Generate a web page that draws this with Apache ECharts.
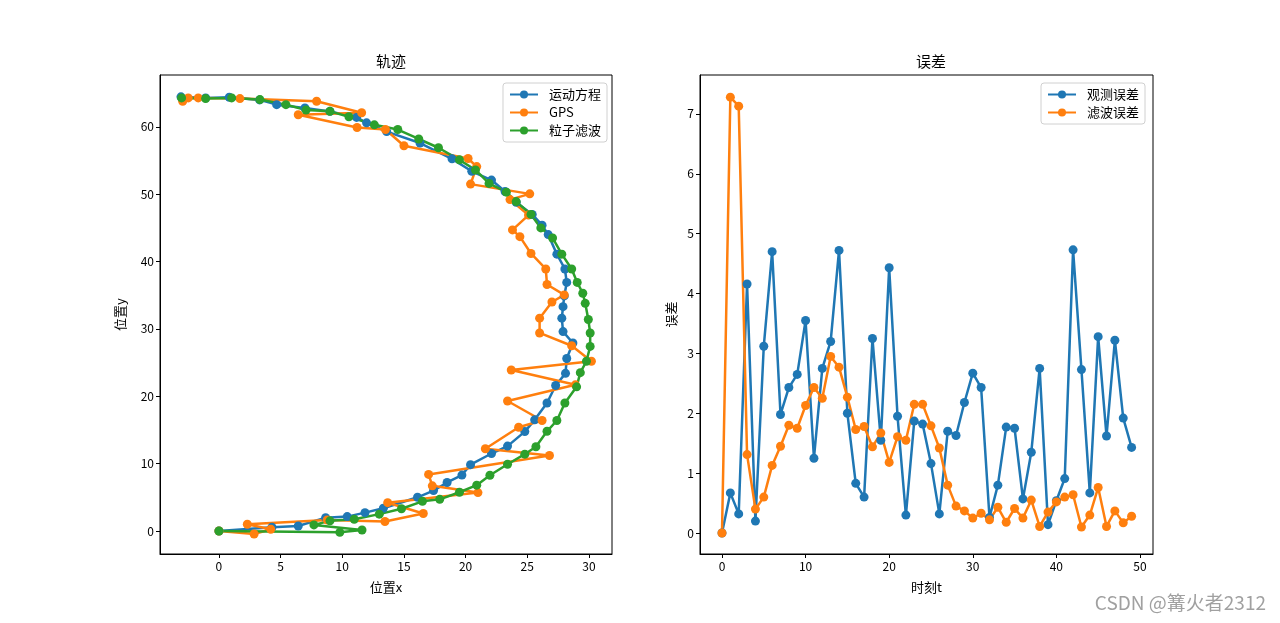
<!DOCTYPE html>
<html>
<head>
<meta charset="utf-8">
<script src="https://cdn.jsdelivr.net/npm/echarts@6/dist/echarts.min.js"></script>
<style>
html,body{margin:0;padding:0;background:#fff;}
#c{width:1280px;height:623px;}
</style>
</head>
<body>
<div id="c"></div>
<script>
// ---- data ----
const motionPath = [[0,0],[4.3,0.55],[6.43,0.74],[8.65,1.98],[10.4,2.13],[11.84,2.72],[13.33,3.37],[16.1,5.0],[17.4,6.0],[18.5,7.2],[19.7,8.3],[20.4,9.85],[22.1,11.5],[23.4,12.6],[24.8,14.75],[25.6,16.5],[26.6,19.0],[27.3,21.6],[28.1,23.4],[28.2,25.6],[28.7,27.9],[27.9,29.6],[27.8,31.6],[27.9,33.3],[28.0,34.9],[28.2,36.9],[28.05,38.9],[27.4,41.1],[26.7,44.0],[26.2,45.4],[25.4,47.0],[24.1,48.8],[23.2,50.4],[22.1,52.1],[20.5,53.4],[18.9,55.25],[16.3,57.6],[13.6,59.3],[11.97,60.6],[11.16,61.4],[9.0,62.3],[6.97,62.8],[4.68,63.3],[3.3,64.0],[0.84,64.4],[-1.08,64.3],[-3.08,64.46]];
const gpsPath = [[0,0],[2.85,-0.45],[4.2,0.25],[2.3,1.0],[8.78,1.63],[13.46,1.4],[16.57,2.6],[13.68,4.2],[21.0,5.7],[17.3,6.7],[17.0,8.4],[26.8,11.2],[21.6,12.2],[24.3,15.4],[26.2,16.4],[23.4,19.3],[28.9,21.7],[23.7,23.9],[30.2,25.2],[28.6,27.5],[26.0,29.4],[26.0,31.6],[27.0,34.0],[28.0,35.05],[26.6,36.6],[26.5,38.9],[25.3,41.2],[24.4,43.7],[23.8,44.7],[25.1,46.9],[23.6,49.2],[25.2,50.05],[20.4,51.5],[20.9,54.1],[20.2,55.3],[15.0,57.2],[13.5,59.6],[11.2,59.9],[6.43,61.8],[11.57,62.1],[7.92,63.8],[1.7,64.2],[-1.68,64.3],[-2.49,64.3],[-2.94,63.8]];
const pfPath = [[0,0],[9.8,-0.2],[11.6,0.15],[7.7,0.9],[9.0,1.5],[10.97,1.74],[13.0,2.5],[14.8,3.3],[16.5,4.4],[17.9,4.7],[19.5,5.75],[20.9,6.8],[21.97,8.27],[23.4,9.9],[24.8,11.4],[25.7,12.5],[26.6,14.8],[27.4,16.4],[28.05,19.0],[29.0,21.4],[29.3,23.5],[29.8,25.2],[30.1,27.4],[30.1,29.4],[29.95,31.4],[29.7,33.8],[29.5,35.3],[29.05,36.9],[28.6,38.9],[27.8,41.1],[27.05,43.5],[26.1,45.0],[25.3,47.0],[24.1,48.9],[23.3,50.3],[21.9,51.6],[20.8,53.6],[19.5,55.1],[17.8,56.9],[16.2,58.2],[14.5,59.6],[12.6,60.3],[10.54,61.5],[9.0,62.3],[7.06,62.5],[5.43,63.3],[3.32,64.05],[1.03,64.3],[-1.08,64.2],[-3.03,64.3]];
const obsError = [0,0.67,0.32,4.16,0.2,3.12,4.7,1.98,2.43,2.65,3.55,1.25,2.75,3.2,4.72,2.0,0.83,0.6,3.25,1.55,4.43,1.95,0.3,1.87,1.82,1.16,0.32,1.7,1.63,2.18,2.67,2.43,0.26,0.8,1.77,1.75,0.57,1.35,2.75,0.14,0.54,0.91,4.73,2.73,0.67,3.28,1.62,3.22,1.92,1.43];
const filterError = [0,7.28,7.13,1.31,0.4,0.6,1.13,1.45,1.8,1.75,2.13,2.43,2.25,2.95,2.77,2.27,1.73,1.78,1.44,1.67,1.18,1.61,1.55,2.15,2.15,1.79,1.42,0.8,0.45,0.37,0.25,0.33,0.22,0.43,0.18,0.41,0.25,0.55,0.11,0.35,0.52,0.6,0.64,0.1,0.3,0.76,0.11,0.37,0.17,0.28];
const leftXTicks = [0,5,10,15,20,25,30];
const leftYTicks = [0,10,20,30,40,50,60];
const rightXTicks = [0,10,20,30,40,50];
const rightYTicks = [0,1,2,3,4,5,6,7];
const timeSteps = obsError.map((_, i) => i);

// ---- chart ----
const FONT = '"Noto Sans CJK SC", "DejaVu Sans", sans-serif';
const C = ['#1f77b4', '#ff7f0e', '#2ca02c'];
const chart = echarts.init(document.getElementById('c'), null, {renderer: 'canvas'});

function valAxis(gridIndex, min, max, ticks, name, nameGap) {
  return {
    type: 'value', gridIndex, min, max,
    name, nameLocation: 'middle', nameGap,
    nameTextStyle: {color: '#000', fontSize: 13, fontFamily: FONT},
    axisLine: {show: true, onZero: false, lineStyle: {color: '#000', width: 1}},
    axisTick: {show: true, length: 4, lineStyle: {color: '#000'}, customValues: ticks},
    axisLabel: {color: '#000', fontSize: 12, fontFamily: FONT, margin: 6, customValues: ticks, showMinLabel: true, showMaxLabel: true},
    splitLine: {show: false}
  };
}

function lineSeries(name, data, color, xi, yi) {
  return {
    type: 'line', name, data, xAxisIndex: xi, yAxisIndex: yi,
    symbol: 'circle', symbolSize: 9, showSymbol: true,
    lineStyle: {color, width: 2.5}, itemStyle: {color},
    emphasis: {disabled: true}, animation: false, clip: false
  };
}

const legendBase = {
  orient: 'vertical', backgroundColor: '#fff', borderColor: '#d0d0d0', borderWidth: 1, borderRadius: 3,
  padding: [5, 6, 5, 6], itemGap: 5, itemWidth: 28, itemHeight: 10,
  textStyle: {color: '#000', fontSize: 13, fontFamily: FONT, padding: [0, 0, 0, 6]},
  align: 'left'
};

chart.setOption({
  animation: false,
  backgroundColor: '#fff',
  title: [
    {text: '轨迹', left: 386, top: 49, textAlign: 'center', textStyle: {fontSize: 15, fontWeight: 'normal', color: '#000', fontFamily: FONT}},
    {text: '误差', left: 926, top: 49, textAlign: 'center', textStyle: {fontSize: 15, fontWeight: 'normal', color: '#000', fontFamily: FONT}}
  ],
  grid: [
    {left: 160, top: 75, width: 452, height: 479, show: true, borderColor: '#000', borderWidth: 1, backgroundColor: 'transparent'},
    {left: 700, top: 75, width: 453, height: 479, show: true, borderColor: '#000', borderWidth: 1, backgroundColor: 'transparent'}
  ],
  xAxis: [
    valAxis(0, -4.78, 31.87, leftXTicks, '位置x', 27),
    valAxis(1, -2.63, 51.56, rightXTicks, '时刻t', 27)
  ],
  yAxis: [
    valAxis(0, -3.42, 67.7, leftYTicks, '位置y', 33),
    valAxis(1, -0.35, 7.65, rightYTicks, '误差', 22)
  ],
  legend: [
    Object.assign({}, legendBase, {data: ['运动方程', 'GPS', '粒子滤波'], right: 673, top: 83}),
    Object.assign({}, legendBase, {data: ['观测误差', '滤波误差'], right: 135, top: 83})
  ],
  series: [
    lineSeries('运动方程', motionPath, C[0], 0, 0),
    lineSeries('GPS', gpsPath, C[1], 0, 0),
    lineSeries('粒子滤波', pfPath, C[2], 0, 0),
    lineSeries('观测误差', timeSteps.map(t => [t, obsError[t]]), C[0], 1, 1),
    lineSeries('滤波误差', timeSteps.map(t => [t, filterError[t]]), C[1], 1, 1)
  ],
  graphic: [
    {type: 'text', right: 14, top: 593, style: {text: 'CSDN @篝火者2312', fill: '#a0a0a0', font: '19px ' + FONT}}
  ]
});
</script>
</body>
</html>
